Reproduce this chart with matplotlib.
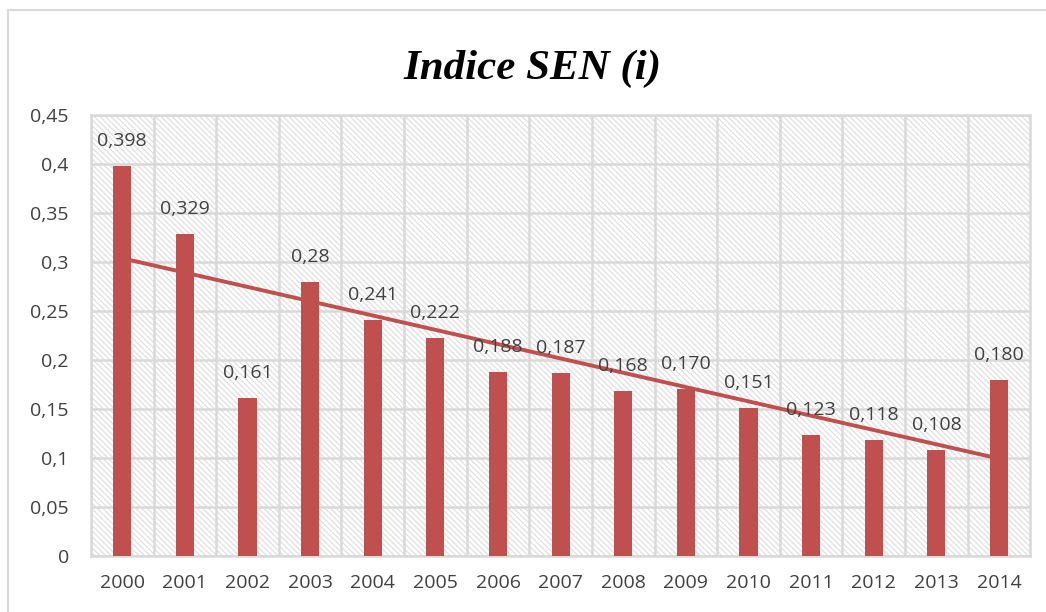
import matplotlib
matplotlib.use("Agg")
import matplotlib.pyplot as plt
import numpy as np
from matplotlib.patches import Rectangle
from matplotlib.ticker import FuncFormatter

years = ["2000", "2001", "2002", "2003", "2004", "2005", "2006", "2007",
         "2008", "2009", "2010", "2011", "2012", "2013", "2014"]
values = [0.398, 0.329, 0.161, 0.28, 0.241, 0.222, 0.188, 0.187,
          0.168, 0.170, 0.151, 0.123, 0.118, 0.108, 0.180]
labels = ["0,398", "0,329", "0,161", "0,28", "0,241", "0,222", "0,188", "0,187",
          "0,168", "0,170", "0,151", "0,123", "0,118", "0,108", "0,180"]
title = "Indice SEN (i)"

bar_color = "#C0504D"
text_color = "#404040"
grid_color = "#D9D9D9"

plt.rcParams["hatch.linewidth"] = 0.8
plt.rcParams["hatch.color"] = "#DCDCDC"

fig = plt.figure(figsize=(10.46, 6.12), dpi=100)
ax = fig.add_axes([0.087, 0.0915, 0.898, 0.7205])

# outer chart border
fig.patches.append(Rectangle((8 / 1046, -0.01), 1.05, (612 - 10) / 612 + 0.01,
                             transform=fig.transFigure, fill=False,
                             edgecolor=grid_color, linewidth=1.5))

x = np.arange(len(years))
ax.set_xlim(-0.5, len(years) - 0.5)
ax.set_ylim(0, 0.45)

# hatched plot background
ax.add_patch(Rectangle((0, 0), 1, 1, transform=ax.transAxes, facecolor="white",
                       edgecolor="#DCDCDC", hatch="\\" * 6, linewidth=0, zorder=-1))

ax.set_yticks(np.arange(0, 0.451, 0.05))
ax.yaxis.set_major_formatter(FuncFormatter(
    lambda v, p: "0" if abs(v) < 1e-9 else ("%g" % round(v, 2)).replace(".", ",")))
ax.set_xticks(x - 0.5, minor=False)
ax.set_xticks(x, minor=True)
ax.set_xticklabels([], minor=False)
ax.set_xticklabels(years, minor=True)
ax.tick_params(axis="both", which="both", length=0, labelsize=14,
               labelcolor=text_color)
ax.tick_params(axis="x", which="both", pad=13)
ax.tick_params(axis="y", which="both", pad=16)
for lbl in ax.get_xticklabels(minor=True) + ax.get_yticklabels():
    lbl.set_fontfamily("Open Sans")
ax.grid(True, which="major", axis="both", color=grid_color, linewidth=1.8, zorder=1)
for gl in ax.get_xgridlines() + ax.get_ygridlines():
    gl.set_zorder(1)

for s in ax.spines.values():
    s.set_color(grid_color)
    s.set_linewidth(1.8)

ax.bar(x, values, width=0.29, color=bar_color, zorder=3)

# linear trend line
coef = np.polyfit(x, values, 1)
ax.plot(x, np.polyval(coef, x), color=bar_color, linewidth=2.8, zorder=4)

for xi, v, t in zip(x, values, labels):
    ax.annotate(t, (xi, v), xytext=(0, 25), textcoords="offset pixels",
                ha="center", va="center", fontsize=14, color=text_color,
                family="Open Sans", zorder=5)

fig.text(0.509, 0.888, title, ha="center", va="center", fontsize=31,
         fontweight="bold", fontstyle="italic", family="Liberation Serif",
         color="black")

fig.savefig("out.png", dpi=100)
